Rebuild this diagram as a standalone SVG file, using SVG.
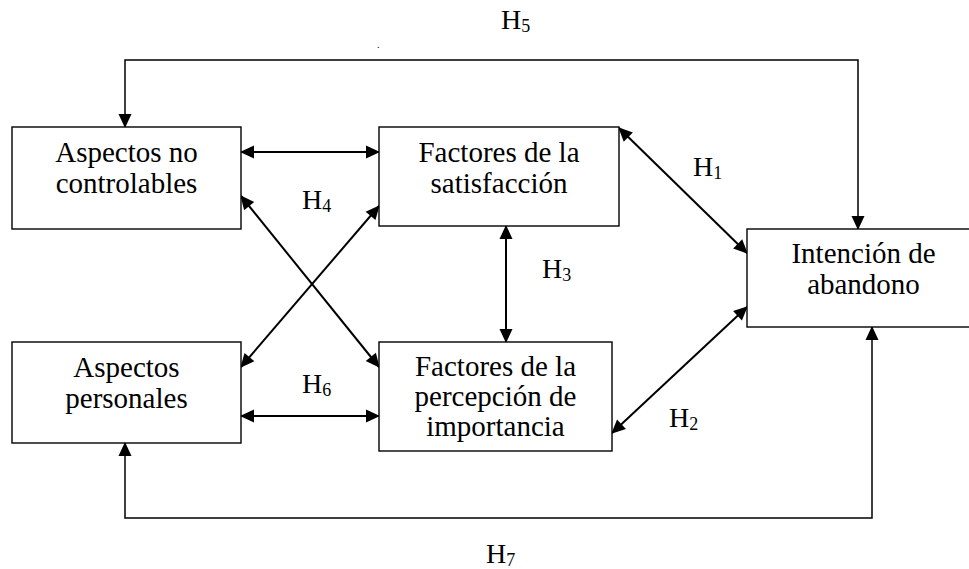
<svg xmlns="http://www.w3.org/2000/svg" width="969" height="569" viewBox="0 0 969 569">
<style>
.box{fill:#fff;stroke:#000;stroke-width:1.4}
.t{font-family:"Liberation Serif","Times New Roman",serif;font-size:29px;fill:#000;text-anchor:middle}
.h{font-family:"Liberation Serif","Times New Roman",serif;font-size:28px;fill:#000}
.sub{font-size:18px}
.c{fill:none;stroke:#000;stroke-width:2;marker-start:url(#ah);marker-end:url(#ah)}
.thin{stroke-width:1.5}
</style>
<defs>
<marker id="ah" markerUnits="userSpaceOnUse" markerWidth="16" markerHeight="16" viewBox="0 0 16 16" refX="14" refY="8" orient="auto-start-reverse">
<path d="M1,1.5 L15,8 L1,14.5 Z" fill="#000"/>
</marker>
</defs>
<g id="connectors">
<path class="c thin" d="M125,127 V60 H858 V229"/>
<path class="c thin" d="M125,443 V518 H872 V327"/>
<path class="c" d="M241,152 H379"/>
<path class="c" d="M241,416 H379"/>
<path class="c" d="M241,196 L379,367"/>
<path class="c" d="M379,206 L241,367"/>
<path class="c" d="M506,226 V342"/>
<path class="c" d="M619,128 L747,253"/>
<path class="c" d="M612,433 L747,307"/>
</g>
<g id="node-aspectos-no-controlables">
<rect class="box" x="12" y="127" width="229" height="102"/>
<text class="t" x="126.5" y="162">Aspectos no</text>
<text class="t" x="126.5" y="193">controlables</text>
</g>
<g id="node-factores-satisfaccion">
<rect class="box" x="379" y="127" width="240" height="99"/>
<text class="t" x="499" y="162">Factores de la</text>
<text class="t" x="499" y="193">satisfacción</text>
</g>
<g id="node-intencion-abandono">
<rect class="box" x="747" y="229" width="240" height="98"/>
<text class="t" x="863.5" y="263">Intención de</text>
<text class="t" x="863.5" y="294">abandono</text>
</g>
<g id="node-aspectos-personales">
<rect class="box" x="12" y="342" width="229" height="101"/>
<text class="t" x="126.5" y="377">Aspectos</text>
<text class="t" x="126.5" y="408">personales</text>
</g>
<g id="node-factores-percepcion">
<rect class="box" x="379" y="342" width="233" height="109"/>
<text class="t" x="495.5" y="376">Factores de la</text>
<text class="t" x="495.5" y="406">percepción de</text>
<text class="t" x="495.5" y="436">importancia</text>
</g>
<g id="labels">
<text class="h" x="501" y="29">H<tspan class="sub" dy="3">5</tspan></text>
<text class="h" x="693" y="176">H<tspan class="sub" dy="3">1</tspan></text>
<text class="h" x="302" y="209">H<tspan class="sub" dy="3">4</tspan></text>
<text class="h" x="542" y="278">H<tspan class="sub" dy="3">3</tspan></text>
<text class="h" x="302" y="393">H<tspan class="sub" dy="3">6</tspan></text>
<text class="h" x="669" y="427">H<tspan class="sub" dy="3">2</tspan></text>
<text class="h" x="486" y="563">H<tspan class="sub" dy="3">7</tspan></text>
<text class="h" x="377" y="48" style="font-size:10px">.</text>
</g>
</svg>
